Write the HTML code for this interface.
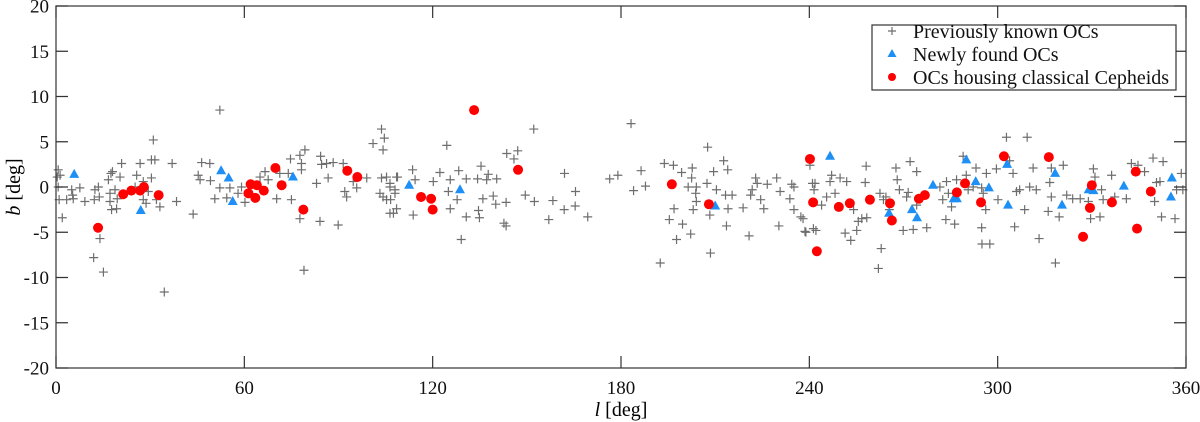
<!DOCTYPE html>
<html><head><meta charset="utf-8"><style>
html,body{margin:0;padding:0;background:#fff;width:1200px;height:422px;overflow:hidden}
svg{display:block;font-family:"Liberation Serif",serif}
</style></head><body>
<svg id="chart" width="1200" height="422" viewBox="0 0 1200 422" xmlns="http://www.w3.org/2000/svg"></svg>
<script>
const xTicks=[0,60,120,180,240,300,360];
const yTicks=[20,15,10,5,0,-5,-10,-15,-20];
const knownPts=[[0.7,1.9],[0.4,1.1],[1.3,1.3],[0.7,0],[1,-1.4],[2,-3.4],[3.4,-1.4],[5,-0.3],[5.5,-1.3],[5.3,-0.9],[7.6,-0.1],[9.2,-1.6],[12,-7.8],[12.2,-1.4],[12.4,-0.3],[13.5,0],[13.8,-1.1],[14,-5.7],[15.1,-9.4],[16.7,0.8],[17.2,-0.7],[17.5,1.5],[18,1.7],[17.2,-1.6],[17.7,-2.5],[19.3,-2.4],[18.8,-0.3],[19.5,-1.3],[20.4,1.1],[20.9,2.6],[25.7,1.3],[25.2,0],[26.8,2.6],[27.8,0.6],[27.8,-1.4],[28.7,-1.8],[29.4,-0.5],[30.4,1],[31,5.2],[30.4,3],[31.5,3],[32,-1.4],[33.1,-2.2],[34.5,-11.6],[37,2.6],[38.4,-1.6],[43.7,-3],[45.3,1.3],[45.9,0.8],[46.4,2.7],[49,2.6],[49.2,0.7],[50.6,-1.3],[52.2,8.5],[52.2,-0.1],[54.4,-1.2],[55.4,-0.1],[58,-0.7],[59.1,0],[60.2,-1.7],[65,1.1],[66.6,1.7],[67.6,0.8],[70.3,-1.3],[71.3,1.5],[74,1.5],[74.7,3.1],[75,-1.4],[77.7,3.5],[78.2,2.6],[79.3,4.1],[78.2,1.9],[77.7,-3.5],[79,-9.2],[83,0.4],[84.3,3.4],[84.6,2.5],[84.1,-3.8],[86.2,2.6],[86.7,1],[88.3,2.7],[89.9,-4.2],[91.5,2.6],[92,-0.5],[92.6,-1.1],[94.7,0.6],[95.8,-0.1],[99,1],[101,4.8],[103.7,6.4],[104.6,5.4],[104.2,4.1],[103.7,1],[105.3,1.1],[103.2,-0.7],[104.2,-1.1],[106.4,0.4],[106.6,-1.4],[106.4,-2.9],[108.5,1.1],[108,-0.7],[108.5,-2.4],[106.4,0],[105.3,-1.4],[107.5,-2.9],[108.8,1.1],[108,-0.3],[113.6,1.9],[114.4,0.8],[113.8,-3.1],[120.2,0.6],[122.3,1.6],[124.5,4.6],[125.6,0.8],[125,-0.5],[125.6,-2.4],[127.8,-1.4],[128.3,1.8],[129.1,-5.8],[130.7,0.9],[130.7,-3.3],[134.3,0.9],[135.4,2.3],[136,-1.3],[134.6,-2.6],[134.9,-3.4],[137.7,1.4],[137.2,0.8],[139.3,-1],[140.4,0.9],[140.1,-1.9],[143.6,3.7],[147.1,4],[145.9,3.1],[142.7,-4],[143.4,-4.3],[143.4,-1.7],[149.5,-0.9],[152.2,6.4],[152.4,-1.6],[157,-3.6],[158.3,-1.5],[161.9,-2.5],[162,1.5],[165.5,-0.5],[165.4,-2.1],[169.4,-3.3],[176.4,0.9],[179,1.3],[183.2,7],[184,-0.4],[186.4,1.8],[187.8,0.1],[192.5,-8.4],[193.8,2.6],[196.7,2.4],[195.4,-3.6],[196.9,-2.4],[197.7,-5.8],[199.3,1.6],[199.6,-4.1],[202.2,-5.2],[202.7,2.1],[202.5,1],[201.4,0],[204,0],[203.8,-0.7],[203,-2.5],[204,-1.6],[207.6,4.4],[207.4,0.4],[208.3,-3.1],[208.5,-7.3],[210.4,-0.3],[209.5,1.7],[212.7,2.9],[214,1.9],[213.3,-0.9],[215.4,-0.9],[214.1,-2.4],[213.6,-4.3],[218.9,-2.3],[220.8,-5.4],[221.3,-0.9],[221.8,-0.3],[222.9,1],[223.4,0.4],[224.5,-1.4],[225.5,-2.4],[226.6,0.3],[229.6,1],[230.3,-4.3],[230.7,-0.5],[233.8,-1.3],[234.4,0.3],[235.1,0],[235.1,-2.5],[237.3,-3.3],[238.6,-4.9],[240.2,2.4],[241,0.4],[241.5,-0.3],[241.3,-4.6],[238,-3.5],[238.9,-5],[241.8,0.4],[242.1,-4.8],[243.9,-2],[245.5,-1.1],[246.6,0.6],[247.1,1.3],[248.2,-0.7],[249.8,1],[251.9,0.6],[251.4,-5.1],[253.2,-5.9],[254.1,-2.5],[255.1,-4.8],[255.6,-3.8],[256.7,-3.5],[258.1,2.3],[257.8,0.5],[258.3,-3.4],[262,-9],[262.9,-6.8],[262.5,-0.7],[263.6,-1.4],[264.4,-1.1],[265.5,-2.5],[267.6,2.1],[268,0.8],[268.7,-0.3],[269.9,-4.8],[271,-1.1],[272.1,2.8],[271.5,-0.6],[273.1,-4.7],[274.2,1.7],[274.2,-2],[277.4,-4.5],[281.6,0],[282.5,-1.4],[283.5,-3.6],[283.7,0.6],[284.3,-0.7],[285.3,-2.2],[286.3,-4.1],[286.9,0.8],[289,3.4],[290,1.3],[290.6,-0.3],[292.2,0],[293.1,2.1],[294.9,-0.1],[295.4,-0.7],[294.9,-4.5],[295,-6.3],[297.5,-6.3],[296.4,1.5],[296.2,-2.5],[299.6,2],[300.1,-1.4],[302.8,5.5],[303.8,2.9],[304.9,1.5],[305.4,-4.4],[306,-0.5],[307,-0.3],[308.6,-2.5],[309.4,5.5],[310.2,0],[311.3,2.1],[312.3,-0.3],[313.2,-5.7],[316.6,0.5],[317.1,2.1],[317.1,-1.1],[316.1,-2.7],[319.6,-3.3],[318.4,-8.4],[320.9,2.4],[322,-0.9],[323.9,-1.3],[326.3,-1.3],[328.9,-1.6],[330.5,2],[331,1.1],[329.6,-3.5],[332.6,-3.3],[333.1,-0.3],[333.6,-1.4],[336.3,1.3],[337.3,-1.1],[341,-1.3],[342.6,2.6],[344.7,2.4],[346.8,1.7],[349.5,3.2],[350,-1.6],[350.6,0.5],[352.2,-3.3],[352.7,2.8],[351.7,0.6],[356.5,-3.5],[357,-0.3],[358.5,1.5],[359,-0.3]];
const newPts=[[5.8,1.4],[27,-2.6],[52.6,1.8],[55,1],[56.3,-1.6],[75.5,1.1],[112.5,0.2],[128.7,-0.3],[210,-2.1],[246.6,3.4],[265.4,-2.9],[272.7,-2.5],[274.3,-3.4],[279.4,0.2],[286,-1.3],[287,-1.3],[290,3],[293,0.6],[297.2,-0.1],[303,2.5],[303.3,-2],[318.3,1.5],[320.5,-2],[329,-0.3],[330.5,-0.4],[340.2,0.1],[355.5,1],[355.2,-1.1]];
const cephPts=[[13.4,-4.5],[21.4,-0.8],[24,-0.4],[26.8,-0.4],[28,0],[32.7,-0.9],[62,0.3],[64,0.2],[61.3,-0.7],[63.5,-1.2],[66.2,-0.4],[69.9,2.1],[71.9,0.2],[78.8,-2.5],[92.8,1.8],[96,1.1],[133.2,8.5],[147.2,1.9],[116.3,-1.1],[119.5,-1.3],[120,-2.5],[196.2,0.3],[208,-1.9],[240.2,3.1],[241.2,-1.7],[242.4,-7.1],[249.4,-2.2],[252.9,-1.8],[259.3,-1.4],[265.7,-1.8],[266.3,-3.7],[274.9,-1.3],[276.8,-0.9],[287,-0.6],[289.6,0.4],[294.7,-1.7],[302,3.4],[316.3,3.3],[327.2,-5.5],[329.4,-2.3],[330,0.2],[336.4,-1.7],[344,1.7],[344.4,-4.6],[348.8,-0.5]];

const X0=56,X1=1186,Y0=6,Y1=368;
const sx=l=>X0+(l-0)/(360-0)*(X1-X0);
const sy=b=>Y1-(b+20)/40*(Y1-Y0);
const svg=document.getElementById('chart');
const NS='http://www.w3.org/2000/svg';
function mk(tag,attrs,parent){const e=document.createElementNS(NS,tag);for(const k in attrs)e.setAttribute(k,attrs[k]);(parent||svg).appendChild(e);return e;}

const marks=mk('g',{});


const gK=mk('g',{stroke:'#6e6e6e','stroke-width':'1.2'},marks);


knownPts.forEach(p=>{const x=sx(p[0]),y=sy(p[1]);
 const e=mk('path',{d:`M${x-4.5},${y}H${x+4.5}M${x},${y-4.5}V${y+4.5}`},gK);
 
 });
const gN=mk('g',{fill:'#1e8ff5'},marks);


newPts.forEach(p=>{const x=sx(p[0]),y=sy(p[1]);
 const e=mk('path',{d:`M${x},${y-5.5}L${x+5},${y+3.5}L${x-5},${y+3.5}Z`},gN);
 
 });
const gC=mk('g',{fill:'#ff0000'},marks);


cephPts.forEach(p=>{const e=mk('circle',{cx:sx(p[0]),cy:sy(p[1]),r:5},gC);
 
 });

const frame=mk('rect',{x:X0,y:Y0,width:X1-X0,height:Y1-Y0,fill:'none',stroke:'#333','stroke-width':'1.2'});


const gX=mk('g',{'font-size':'19',fill:'#111','text-anchor':'middle'});


xTicks.forEach(t=>{const x=sx(t);
 mk('path',{d:`M${x},${Y1}V${Y1-12}M${x},${Y0}V${Y0+12}`,stroke:'#333','stroke-width':'1.2'},gX);
 const tx=mk('text',{x:x,y:394},gX);tx.textContent=t;
 
 });
const gY=mk('g',{'font-size':'19',fill:'#111','text-anchor':'end'});


yTicks.forEach(t=>{const y=sy(t);
 mk('path',{d:`M${X0},${y}H${X0+12}M${X1},${y}H${X1-12}`,stroke:'#333','stroke-width':'1.2'},gY);
 const tx=mk('text',{x:49,y:y+6.5},gY);tx.textContent=t;
 
 });
</script>
<svg style="position:absolute;left:0;top:0" width="1200" height="422" xmlns="http://www.w3.org/2000/svg" font-family="Liberation Serif, serif">
 <text x="621" y="416" font-size="20" text-anchor="middle"><tspan font-style="italic">l</tspan> [deg]</text>
 <text transform="translate(20,187) rotate(-90)" font-size="20" text-anchor="middle"><tspan font-style="italic">b</tspan> [deg]</text>
 <g>
  <rect x="872" y="25" width="304" height="65" fill="#fff" stroke="#333" stroke-width="1.2"/>
  <path d="M888,31H896M892,27V35" stroke="#6e6e6e" stroke-width="1.2"/>
  <path d="M892,49L896.5,57L887.5,57Z" fill="#1e8ff5"/>
  <circle cx="892" cy="77" r="4" fill="#ff0000"/>
  <text x="913" y="38" font-size="20" fill="#111">Previously known OCs</text>
  <text x="913" y="61" font-size="20" fill="#111">Newly found OCs</text>
  <text x="913" y="84" font-size="20" fill="#111">OCs housing classical Cepheids</text>
 </g>
</svg>
</body></html>
